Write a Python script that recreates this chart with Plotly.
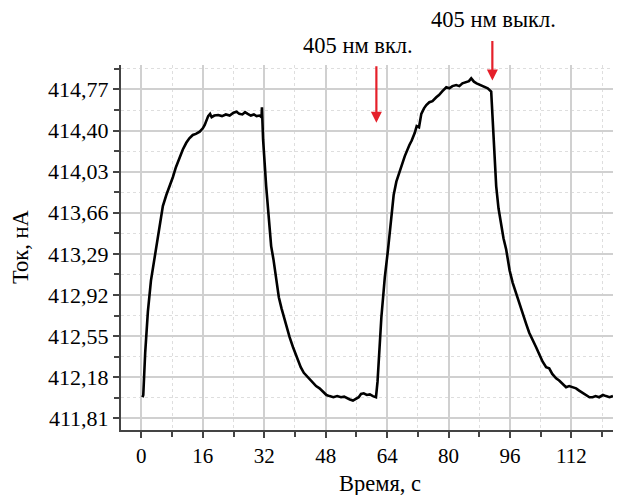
import plotly.graph_objects as go

time_s = [0.3, 0.5, 1.0, 1.7, 2.5, 3.2, 3.9, 4.7, 5.6, 6.5, 7.4, 8.2, 9.0, 10.0, 10.8, 11.7, 12.5, 13.4, 14.2, 15.2,
          16.0, 16.5, 17.0, 17.4, 17.9, 18.3, 19.0, 20.0, 21.0, 22.0, 23.0, 24.0, 24.8, 25.5, 26.3, 27.0, 27.7, 28.5,
          29.3, 30.0, 30.8, 31.3, 31.4, 31.7, 32.5, 33.2, 33.8, 34.4, 35.2, 35.8, 36.5, 37.2, 37.8, 38.6, 39.5, 40.5,
          41.5, 42.3, 43.4, 44.5, 45.5, 46.4, 47.3, 48.2, 49.0, 50.0, 51.0, 52.0, 52.8, 53.5, 54.3, 55.1, 55.9, 56.6,
          57.2, 57.9, 58.7, 59.5, 60.3, 61.1, 61.5, 62.0, 62.5, 63.0, 63.4, 64.2, 65.1, 65.7, 66.4, 67.5, 68.6, 69.8,
          70.4, 71.2, 71.7, 72.3, 72.9, 73.6, 74.2, 75.0, 75.8, 76.8, 77.5, 78.4, 79.4, 80.2, 81.0, 82.0, 82.8, 83.6,
          84.6, 85.3, 85.9, 86.6, 87.3, 88.0, 88.5, 89.3, 90.2, 91.1, 91.6, 92.4, 93.0, 93.7, 94.3, 95.0, 95.9, 96.7,
          97.6, 98.5, 99.3, 100.2, 101.0, 101.9, 102.8, 103.7, 104.5, 105.4, 106.2, 107.0, 108.0, 108.8, 109.7, 110.6,
          111.4, 112.2, 113.2, 114.0, 114.9, 115.8, 116.7, 117.5, 118.3, 119.2, 120.2, 121.0, 121.9, 122.8]

current_nA = [412.00, 412.02, 412.40, 412.77, 413.05, 413.20, 413.32, 413.52, 413.72, 413.82, 413.90, 413.98, 414.07,
              414.16, 414.23, 414.29, 414.33, 414.36, 414.37, 414.39, 414.42, 414.45, 414.49, 414.53, 414.55, 414.52,
              414.535, 414.54, 414.53, 414.545, 414.535, 414.56, 414.57, 414.55, 414.545, 414.565, 414.55, 414.535,
              414.545, 414.53, 414.535, 414.52, 414.61, 414.32, 413.90, 413.60, 413.36, 413.24, 413.02, 412.90, 412.80,
              412.71, 412.63, 412.54, 412.45, 412.36, 412.27, 412.22, 412.18, 412.14, 412.10, 412.08, 412.05, 412.02,
              412.01, 412.00, 412.01, 412.00, 412.005, 411.99, 411.98, 411.97, 411.985, 412.00, 412.03, 412.035, 412.02,
              412.025, 412.01, 412.00, 412.14, 412.45, 412.72, 412.92, 413.08, 413.32, 413.66, 413.82, 413.94, 414.06,
              414.17, 414.27, 414.31, 414.38, 414.44, 414.43, 414.55, 414.60, 414.63, 414.655, 414.665, 414.70, 414.72,
              414.755, 414.79, 414.78, 414.80, 414.81, 414.80, 414.825, 414.84, 414.845, 414.87, 414.84, 414.825,
              414.815, 414.81, 414.795, 414.78, 414.75, 414.37, 413.90, 413.70, 413.54, 413.43, 413.33, 413.14, 413.03,
              412.93, 412.84, 412.75, 412.66, 412.58, 412.52, 412.45, 412.38, 412.32, 412.27, 412.26, 412.21, 412.17,
              412.15, 412.12, 412.09, 412.10, 412.09, 412.08, 412.06, 412.04, 412.02, 412.00, 412.00, 412.01, 412.00,
              412.02, 412.01, 412.00, 412.01]

x_ticks = [0, 16, 32, 48, 64, 80, 96, 112]
y_ticks = [411.81, 412.18, 412.55, 412.92, 413.29, 413.66, 414.03, 414.40, 414.77]
y_tick_labels = ["411,81", "412,18", "412,55", "412,92", "413,29", "413,66", "414,03", "414,40", "414,77"]

laser_on_t = 61.2
laser_off_t = 91.4
laser_on_label = "405 нм вкл."
laser_off_label = "405 нм выкл."
x_title = "Время, с"
y_title = "Ток, нА"

FONT = "Liberation Serif, Times New Roman, serif"
RED = "#e5202a"
TXT = dict(family=FONT, size=20, color="black")
BIG = dict(family=FONT, size=22.5, color="black")

# The page body has an 8px default margin; the figure is sized so the plot area lands
# where it is in the reference (plot area 500x365 px).
PAD = 8
L, T, B = 121 - PAD, 65 - PAD, 65
PW, PH = 500, 365

fig = go.Figure()
fig.add_trace(go.Scatter(x=time_s, y=current_nA, mode="lines",
                         line=dict(color="black", width=2.6), showlegend=False))

fig.add_annotation(x=laser_on_t, y=414.47, xref="x", yref="y", ax=0, ay=-58,
                   showarrow=True, arrowhead=2, arrowsize=1, arrowwidth=2.2, arrowcolor=RED, text="")
fig.add_annotation(x=laser_off_t, y=414.85, xref="x", yref="y", ax=0, ay=-41,
                   showarrow=True, arrowhead=2, arrowsize=1, arrowwidth=2.2, arrowcolor=RED, text="")
fig.add_annotation(x=56.3, y=(430 - 45) / PH, xref="x", yref="paper", yanchor="middle", xanchor="center",
                   text=laser_on_label, showarrow=False, font=BIG)
fig.add_annotation(x=91.8, y=(430 - 20) / PH, xref="x", yref="paper", yanchor="middle", xanchor="center",
                   text=laser_off_label, showarrow=False, font=BIG)
# axis titles
fig.add_annotation(x=(380 - 121) / PW, y=-(483 - 430) / PH, xref="paper", yref="paper", text=x_title,
                   xanchor="center", yanchor="middle", showarrow=False, font=BIG)
fig.add_annotation(x=-(121 - 21) / PW, y=(430 - 247) / PH, xref="paper", yref="paper", text=y_title,
                   xanchor="center", yanchor="middle", showarrow=False, font=BIG, textangle=-90)

axis_common = dict(ticks="outside", ticklen=6, tickwidth=1.5, tickcolor="#444", showline=True, linecolor="#444",
                   linewidth=2, zeroline=False, showgrid=True, gridcolor="#d0d0d0", gridwidth=1.5,
                   automargin=False)

fig.update_layout(
    width=L + PW, height=T + PH + B,
    margin=dict(l=L, r=0, t=T, b=B),
    paper_bgcolor="white", plot_bgcolor="white",
    font=TXT,
    xaxis=dict(range=[-5.3, 124.9], tickvals=x_ticks, tickfont=dict(family=FONT, size=21, color="black"),
               minor=dict(dtick=8, tick0=0, ticks="outside", ticklen=5, tickwidth=1.5, tickcolor="#444",
                          showgrid=True, gridcolor="#dedede", gridwidth=1, griddash="dot"),
               **axis_common),
    yaxis=dict(range=[411.705, 414.99], tickvals=y_ticks, ticktext=y_tick_labels,
               tickfont=dict(family=FONT, size=22, color="black"),
               minor=dict(dtick=0.185, tick0=411.81, ticks="outside", ticklen=5, tickwidth=1.5, tickcolor="#444",
                          showgrid=True, gridcolor="#dedede", gridwidth=1, griddash="dot"),
               **axis_common),
)

fig.write_html("out.html")
